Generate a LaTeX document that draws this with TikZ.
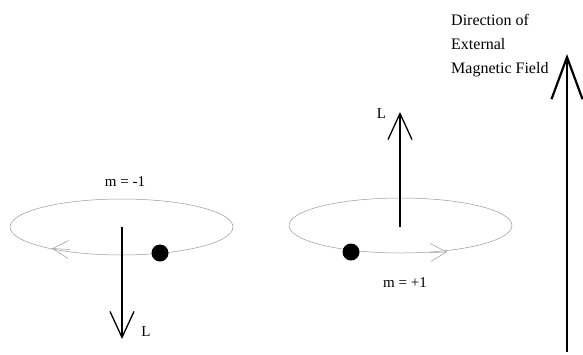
\documentclass[tikz,border=0pt]{standalone}
\usepackage{fontspec}
\setmainfont{Liberation Serif}
\usetikzlibrary{arrows.meta}
\tikzset{
  orbit/.style={gray!80,line width=0.5pt},
  spin/.style={line width=1.3pt,-{Straight Barb[length=26pt,width=24pt,line width=1.3pt]}},
  field/.style={line width=2.4pt,-{Straight Barb[length=42pt,width=31pt,line width=2.2pt]}},
  turn/.style={orbit,-{Straight Barb[length=16pt,width=18pt,line width=0.5pt]}},
  lbl/.style={font=\fontsize{15}{18}\selectfont,inner sep=0pt}
}
\begin{document}
\begin{tikzpicture}[x=1pt,y=-1pt]
  \useasboundingbox (0,0) rectangle (583,354);
  % m = -1 orbit
  \coordinate (Cl) at (121.5,227);
  \draw[orbit] (Cl) ellipse [x radius=111.5,y radius=28];
  \draw[turn] (70,249.5) -- (52,248.5);
  \fill (160,253) circle (8.5);
  \draw[spin] (122,227) -- (122,339) coordinate (Ldn);
  \node[lbl] (ml) at (125,182) {m = -1};
  \node[lbl] (Ll) at (146,331.5) {L};
  % m = +1 orbit
  \coordinate (Cr) at (400.5,225.5);
  \draw[orbit] (Cr) ellipse [x radius=111.5,y radius=27.5];
  \draw[turn] (429,252.5) -- (447,252);
  \fill (351,252) circle (8.5);
  \draw[spin] (400,227) -- (400,112) coordinate (Lup);
  \node[lbl] (mr) at (405,283) {m = +1};
  \node[lbl] (Lr) at (381.5,113.5) {L};
  % external field
  \coordinate (Fbot) at (567,352);
  \coordinate (Ftop) at (567,54);
  \draw[field] (Fbot) -- (Ftop);
  \node[anchor=north west,align=left,inner sep=0pt,
        font=\fontsize{16}{24}\selectfont] (fld) at (451,14.5)
    {Direction of\\External\\Magnetic Field};
\end{tikzpicture}
\end{document}
